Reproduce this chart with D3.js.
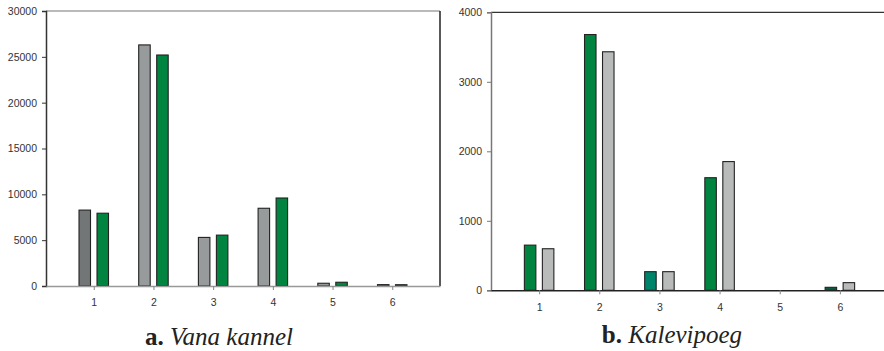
<!DOCTYPE html>
<html>
<head>
<meta charset="utf-8">
<script src="https://cdn.jsdelivr.net/npm/d3@7"></script>
<style>
  body { margin: 0; background: #fff; }
  svg { display: block; }
  .tick text { font-family: "Liberation Sans", Arial, sans-serif; font-size: 10.5px; fill: #333; }
  .caption { font-family: "Liberation Serif", "Times New Roman", serif; font-size: 25px; fill: #222; }
</style>
</head>
<body>
<svg width="884" height="351"></svg>
<script>
const categories = ["1", "2", "3", "4", "5", "6"];

// a. Vana kannel
const vanaFirst = [8280, 26300, 5300, 8480, 300, 150];
const vanaSecond = [7940, 25200, 5550, 9600, 410, 140];

// b. Kalevipoeg
const kalevFirst = [650, 3680, 268, 1620, 0, 43];
const kalevSecond = [598, 3432, 268, 1852, 0, 110];

const vanaTicks = [0, 5000, 10000, 15000, 20000, 25000, 30000];
const kalevTicks = [0, 1000, 2000, 3000, 4000];

let svg = d3.select("svg");

function panel(opts) {
    let x = d3.scalePoint()
        .domain(categories)
        .range([opts.left, opts.right])
        .padding(0.8);
    let y = d3.scaleLinear()
        .domain([0, opts.max])
        .range([opts.bottom, opts.top]);

    let g = svg.append("g");
    let barW = 11.5;
    let off = 9;

    // bars
    [opts.first, opts.second].forEach((series, s) => {
        g.selectAll(null)
            .data(series)
            .enter()
            .append("rect")
            .attr("x", (d, i) => x(categories[i]) + (s === 0 ? -off : off) - barW / 2)
            .attr("y", d => y(d))
            .attr("width", barW)
            .attr("height", d => opts.bottom - y(d))
            .attr("fill", (d, i) => opts.fills[s][i])
            .attr("stroke", "#222")
            .attr("stroke-width", 1.1)
            .attr("display", d => d > 0 ? null : "none");
    });

    // frame lines
    g.append("line")
        .attr("x1", opts.left).attr("x2", opts.right)
        .attr("y1", opts.top).attr("y2", opts.top)
        .attr("stroke", opts.topColor).attr("stroke-width", 1.2);
    g.append("line")
        .attr("x1", opts.right).attr("x2", opts.right)
        .attr("y1", opts.top).attr("y2", opts.bottom)
        .attr("stroke", "#222").attr("stroke-width", 1.5);

    let yAxis = g.append("g")
        .attr("transform", `translate(${opts.left},0)`)
        .call(d3.axisLeft(y).tickValues(opts.ticks).tickSize(4).tickPadding(5).tickFormat(d3.format("d")));
    yAxis.select(".domain").attr("stroke", opts.leftColor).attr("stroke-width", 1.5);
    yAxis.selectAll(".tick line").attr("stroke", opts.leftColor);

    let xAxis = g.append("g")
        .attr("transform", `translate(0,${opts.bottom})`)
        .call(d3.axisBottom(x).tickSize(4).tickSizeOuter(0));
    xAxis.select(".domain").attr("stroke", opts.bottomColor).attr("stroke-width", 1.5);
    xAxis.selectAll(".tick line").attr("stroke", "#888");
    xAxis.selectAll(".tick text").attr("y", 13);

    let cap = svg.append("text")
        .attr("class", "caption")
        .attr("x", opts.capX)
        .attr("y", opts.capY)
        .attr("text-anchor", "middle");
    cap.append("tspan").attr("font-weight", "bold").text(opts.label + " ");
    cap.append("tspan").attr("font-style", "italic").text(opts.title);
}

const green = "#00843f";
const grey = "#979b9b";
const lightGrey = "#b9bbba";

panel({
    left: 46, right: 440, top: 11, bottom: 286, max: 30000,
    ticks: vanaTicks, first: vanaFirst, second: vanaSecond,
    fills: [["#737677", grey, grey, grey, grey, grey], categories.map(() => green)],
    topColor: "#777", leftColor: "#333", bottomColor: "#999",
    label: "a.", title: "Vana kannel", capX: 219, capY: 345
});

panel({
    left: 491, right: 888, top: 12.3, bottom: 290.3, max: 4000,
    ticks: kalevTicks, first: kalevFirst, second: kalevSecond,
    fills: [[green, green, "#00836b", green, green, "#0d5a3c"], categories.map(() => lightGrey)],
    topColor: "#333", leftColor: "#777", bottomColor: "#222",
    label: "b.", title: "Kalevipoeg", capX: 672, capY: 343
});
</script>
</body>
</html>
